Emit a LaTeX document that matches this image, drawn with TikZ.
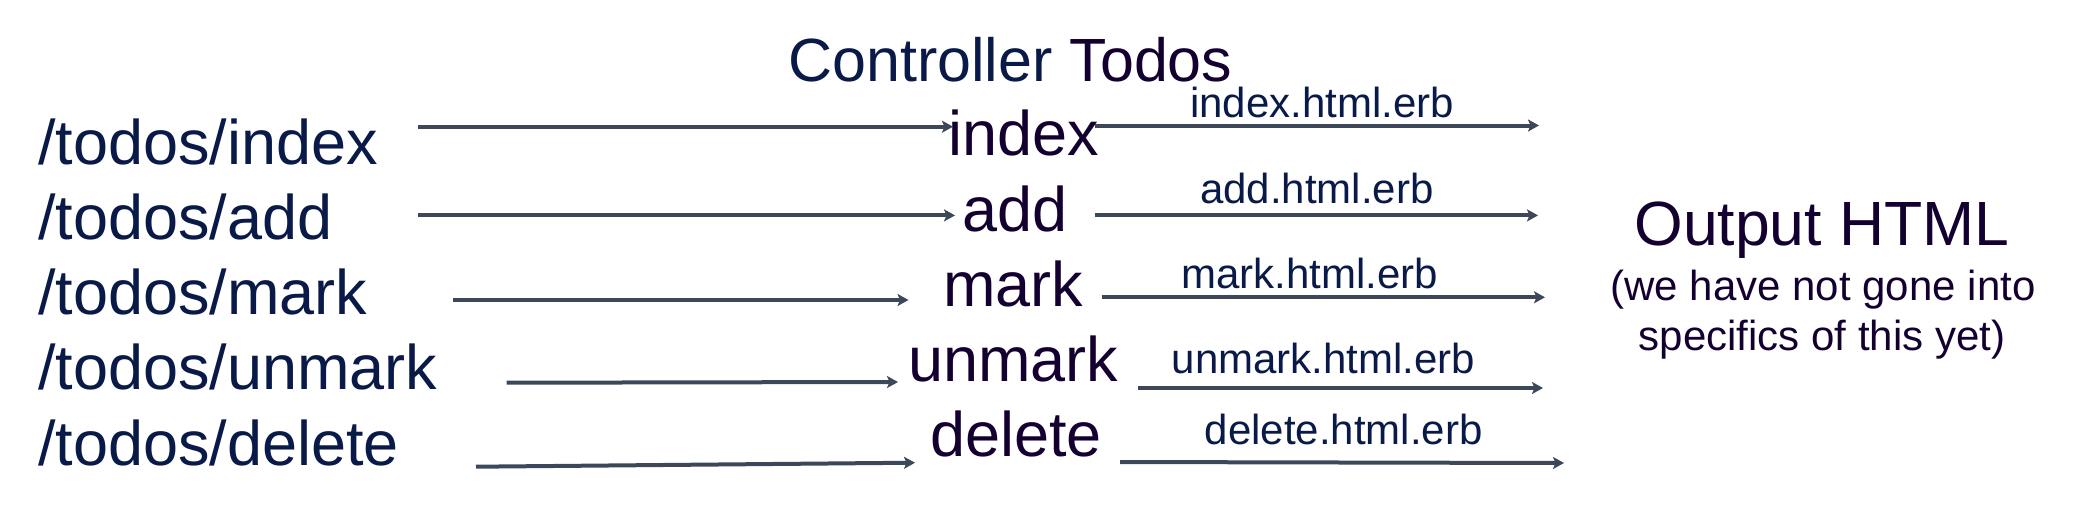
\documentclass[tikz,border=0pt]{standalone}
\usepackage{fontspec}
\setmainfont{Liberation Sans}
\usetikzlibrary{arrows.meta}
\definecolor{navyT}{HTML}{0A1A48}
\definecolor{darkT}{HTML}{140030}
\definecolor{arrowC}{HTML}{3C475A}
\tikzset{
  route/.style={anchor=base west, inner sep=0pt, text=navyT, font=\fontsize{63}{63}\selectfont},
  action/.style={anchor=base west, inner sep=0pt, text=darkT, font=\fontsize{63}{63}\selectfont},
  view/.style={anchor=base west, inner sep=0pt, text=navyT, font=\fontsize{42}{42}\selectfont},
  flow/.style={draw=arrowC, line width=4pt, -{Stealth[length=11pt,width=12pt,inset=2.5pt]}}
}
\begin{document}
\begin{tikzpicture}[x=1pt,y=-1pt]
\useasboundingbox (0,0) rectangle (2099,517);
% title
\node[anchor=base west, inner sep=0pt, font=\fontsize{61}{61}\selectfont] (title) at (788,81)
  {\textcolor{navyT}{Controller} \textcolor{darkT}{Todos}};
% routes
\node[route] (r1) at (38,164) {/todos/index};
\node[route] (r2) at (38,239) {/todos/add};
\node[route] (r3) at (38,314) {/todos/mark};
\node[route] (r4) at (38,389.5) {/todos/unmark};
\node[route] (r5) at (38,465) {/todos/delete};
% actions
\node[action] (a1) at (948,155.5) {index};
\node[action] (a2) at (962.5,231) {add};
\node[action] (a3) at (943,306) {mark};
\node[action] (a4) at (908,381) {unmark};
\node[action] (a5) at (930,456.5) {delete};
% views
\node[view] (v1) at (1190,117) {index.html.erb};
\node[view] (v2) at (1200,203) {add.html.erb};
\node[view] (v3) at (1181,288) {mark.html.erb};
\node[view] (v4) at (1171.5,373.5) {unmark.html.erb};
\node[view] (v5) at (1204.5,444.5) {delete.html.erb};
% output
\node[anchor=base, inner sep=0pt, text=darkT, font=\fontsize{62.5}{62.5}\selectfont] (out) at (1822,245) {Output HTML};
\node[anchor=base, inner sep=0pt, text=darkT, font=\fontsize{42}{42}\selectfont] (note1) at (1823,300) {(we have not gone into};
\node[anchor=base, inner sep=0pt, text=darkT, font=\fontsize{42}{42}\selectfont] (note2) at (1822,350) {specifics of this yet)};
% arrow end points
\coordinate (s1) at (418,126.7);  \coordinate (e1) at (953,126.7);
\coordinate (s2) at (418,215.4);  \coordinate (e2) at (955,215.4);
\coordinate (s3) at (452.5,300);  \coordinate (e3) at (908.5,300);
\coordinate (s4) at (506.7,382.7); \coordinate (e4) at (898,382);
\coordinate (s5) at (476,466.7);  \coordinate (e5) at (915,462.7);
\coordinate (t1) at (1095,125.5); \coordinate (u1) at (1539,125.5);
\coordinate (t2) at (1094.6,215.4); \coordinate (u2) at (1538,215.4);
\coordinate (t3) at (1101.7,297.3); \coordinate (u3) at (1545,297.3);
\coordinate (t4) at (1138,388);   \coordinate (u4) at (1543,388);
\coordinate (t5) at (1120,462);   \coordinate (u5) at (1564,463);
\foreach \i in {1,...,5} {
  \draw[flow] (s\i) -- (e\i);
  \draw[flow] (t\i) -- (u\i);
}
\end{tikzpicture}
\end{document}
